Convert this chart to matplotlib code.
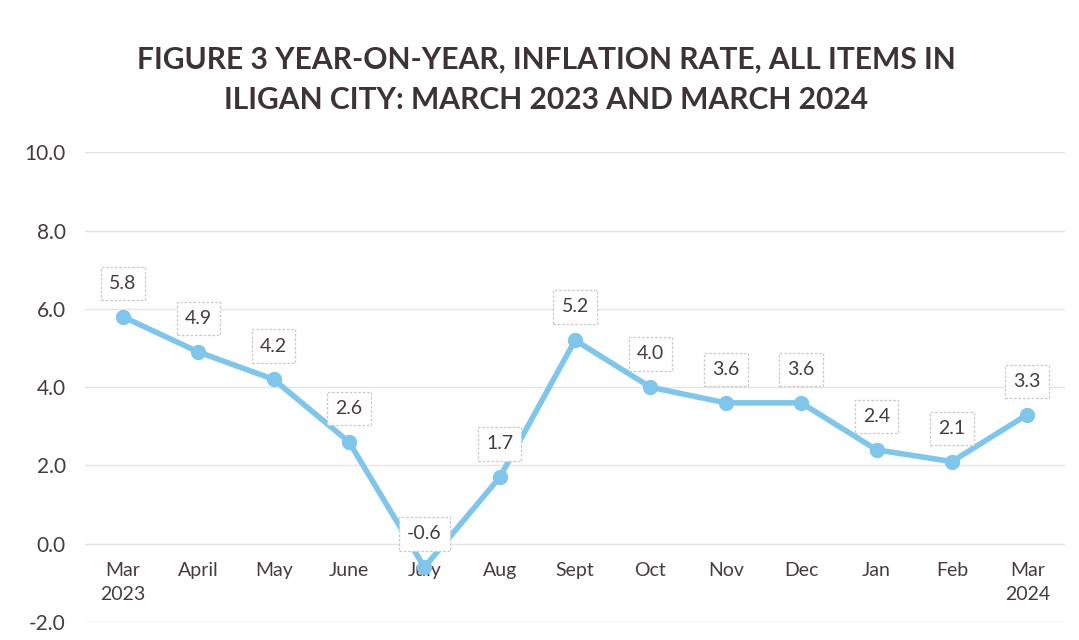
import matplotlib.pyplot as plt
import numpy as np

# data
months = ['Mar\n2023', 'April', 'May', 'June', 'July', 'Aug', 'Sept',
          'Oct', 'Nov', 'Dec', 'Jan', 'Feb', 'Mar\n2024']
inflation = [5.8, 4.9, 4.2, 2.6, -0.6, 1.7, 5.2, 4.0, 3.6, 3.6, 2.4, 2.1, 3.3]
y_ticks = [-2.0, 0.0, 2.0, 4.0, 6.0, 8.0, 10.0]
title = 'FIGURE 3 YEAR-ON-YEAR, INFLATION RATE, ALL ITEMS IN\nILIGAN CITY: MARCH 2023 AND MARCH 2024'

plt.rcParams['font.family'] = ['Lato', 'DejaVu Sans']
text_color = '#463c3e'
line_color = '#80c6ea'

fig = plt.figure(figsize=(10.79, 6.4), dpi=100)
ax = fig.add_axes([0.079, 0.028, 0.908, 0.734])

x = np.arange(len(months))
ax.plot(x, inflation, color=line_color, linewidth=4, marker='o',
        markersize=10, markerfacecolor=line_color, markeredgecolor=line_color,
        zorder=3)

for xi, v in zip(x, inflation):
    ax.annotate('%.1f' % v, (xi, v), xytext=(0, 24), textcoords='offset points',
                ha='center', va='center', fontsize=14, color=text_color,
                bbox=dict(boxstyle='square,pad=0.42', facecolor='white',
                          edgecolor='#c8c8c8', linestyle=(0, (2, 1.5)),
                          linewidth=0.9),
                zorder=4)

ax.spines['bottom'].set_position(('data', 0))
for s in ax.spines.values():
    s.set_visible(False)

ax.set_xlim(-0.5, len(months) - 0.5)
ax.set_ylim(-2, 10)
ax.set_yticks(y_ticks)
ax.set_yticklabels(['%.1f' % t for t in y_ticks], fontsize=15, color=text_color)
ax.set_xticks(x)
ax.set_xticklabels(months, fontsize=14, color=text_color, linespacing=1.5)

ax.tick_params(axis='both', length=0)
ax.tick_params(axis='x', pad=13)
ax.tick_params(axis='y', pad=14)
ax.grid(axis='y', color='#e4e4e4', linewidth=1)
ax.set_axisbelow(True)

fig.text(0.506, 0.875, title, ha='center', va='center', fontsize=21.6,
         fontweight='bold', color='#3d3335', linespacing=1.55)

fig.savefig('out.png', dpi=100)
